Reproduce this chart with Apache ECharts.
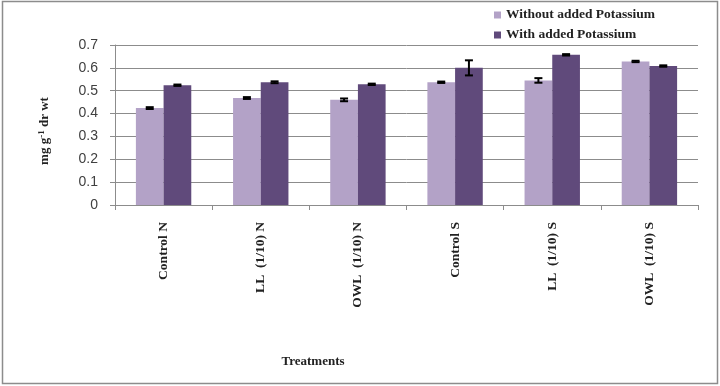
<!DOCTYPE html>
<html>
<head>
<meta charset="utf-8">
<script src="https://cdn.jsdelivr.net/npm/echarts@6/dist/echarts.min.js"></script>
<style>
  html, body { margin: 0; padding: 0; background: #fff; }
  #chart { width: 720px; height: 386px; }
</style>
</head>
<body>
<div id="chart"></div>
<script>
var categories = ['Control N', 'LL  (1/10) N', 'OWL  (1/10) N', 'Control S', 'LL  (1/10) S', 'OWL  (1/10) S'];
var withoutK = [0.424, 0.468, 0.460, 0.537, 0.545, 0.628];
var withoutKErr = [0.004, 0.004, 0.006, 0.003, 0.010, 0.003];
var withK = [0.524, 0.537, 0.528, 0.600, 0.657, 0.608];
var withKErr = [0.003, 0.004, 0.003, 0.033, 0.003, 0.003];
var yTicks = [0, 0.1, 0.2, 0.3, 0.4, 0.5, 0.6, 0.7];

var serif = '"Liberation Serif", "DejaVu Serif", serif';
var sans = '"Liberation Sans", Arial, sans-serif';
var gapPct = 0.43;

function errData(vals, errs) {
	return vals.map(function (v, i) { return [i, v, errs[i]]; });
}

function errorBars(side) {
	return function (params, api) {
		var i = api.value(0);
		var band = api.size([1, 0])[0];
		var bw = band * (1 - gapPct) / 2;
		var base = api.coord([i, 0]);
		var x = base[0] + side * bw / 2;
		var hi = api.coord([i, api.value(1) + api.value(2)])[1];
		var lo = api.coord([i, api.value(1) - api.value(2)])[1];
		var cap = 4;
		var st = { stroke: '#000', lineWidth: 2 };
		return {
			type: 'group',
			children: [
				{ type: 'line', shape: { x1: x, y1: hi, x2: x, y2: lo }, style: st },
				{ type: 'line', shape: { x1: x - cap, y1: hi, x2: x + cap, y2: hi }, style: st },
				{ type: 'line', shape: { x1: x - cap, y1: lo, x2: x + cap, y2: lo }, style: st }
			]
		};
	};
}

var myChart = echarts.init(document.getElementById('chart'));
var option = {
	animation: false,
	backgroundColor: '#fff',
	grid: { left: 115, right: 22, top: 45, bottom: 181 },
	legend: {
		orient: 'vertical',
		left: 489,
		top: 3,
		itemWidth: 7,
		itemHeight: 7,
		itemGap: 6,
		icon: 'rect',
		textStyle: { fontFamily: serif, fontWeight: 'bold', fontSize: 13.5, color: '#222' },
		data: ['Without added Potassium', 'With added Potassium']
	},
	graphic: [
		{ type: 'rect', shape: { x: 2.5, y: 1.5, width: 715, height: 382 }, style: { fill: 'none', stroke: '#8c8c8c', lineWidth: 1.5 }, z: 0 },
		{
			type: 'text', x: 45, y: 131, rotation: Math.PI / 2,
			style: {
				text: 'mg g{sup|-1} dr wt',
				align: 'center', verticalAlign: 'middle',
				font: 'bold 13px ' + serif, fill: '#222',
				rich: { sup: { font: 'bold 9px ' + serif, fill: '#222', verticalAlign: 'top', padding: [0, 0, 7, 0] } }
			}
		},
		{
			type: 'text', x: 313, y: 362,
			style: { text: 'Treatments', align: 'center', verticalAlign: 'middle', font: 'bold 13px ' + serif, fill: '#222' }
		}
	],
	xAxis: {
		type: 'category',
		data: categories,
		axisLine: { lineStyle: { color: '#8c8c8c' } },
		axisTick: { show: true, length: 5, lineStyle: { color: '#8c8c8c' } },
		axisLabel: { rotate: 90, margin: 17, interval: 0, fontFamily: serif, fontWeight: 'bold', fontSize: 13.5, color: '#222' }
	},
	yAxis: {
		type: 'value',
		min: 0,
		max: 0.7,
		interval: 0.1,
		axisLine: { show: true, lineStyle: { color: '#8c8c8c' } },
		axisTick: { show: true, length: 5, lineStyle: { color: '#8c8c8c' } },
		axisLabel: {
			margin: 17, fontFamily: sans, fontSize: 14, color: '#404040',
			formatter: function (v) {
				var t = yTicks.filter(function (k) { return Math.abs(k - v) < 1e-9; });
				return t.length ? String(t[0]) : '';
			}
		},
		splitLine: { lineStyle: { color: '#8c8c8c' } }
	},
	series: [
		{
			name: 'Without added Potassium',
			type: 'bar',
			data: withoutK,
			barGap: '0%',
			barCategoryGap: '43%',
			itemStyle: { color: '#B3A2C7' }
		},
		{
			name: 'With added Potassium',
			type: 'bar',
			data: withK,
			barGap: '0%',
			barCategoryGap: '43%',
			itemStyle: { color: '#604A7B' }
		},
		{
			type: 'custom',
			renderItem: errorBars(-1),
			data: errData(withoutK, withoutKErr),
			encode: { x: 0, y: 1 },
			z: 10,
			silent: true
		},
		{
			type: 'custom',
			renderItem: errorBars(1),
			data: errData(withK, withKErr),
			encode: { x: 0, y: 1 },
			z: 10,
			silent: true
		}
	]
};
myChart.setOption(option);
</script>
</body>
</html>
